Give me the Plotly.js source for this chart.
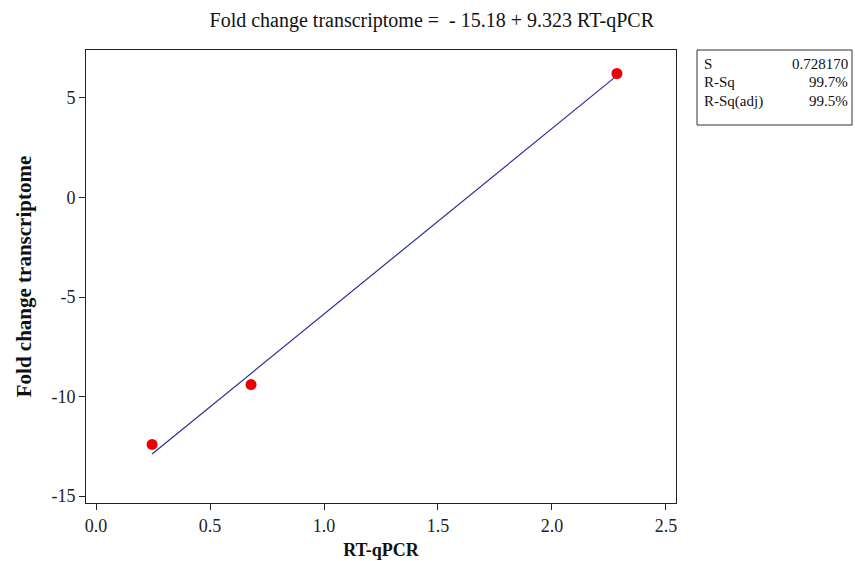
<!DOCTYPE html>
<html>
<head>
<meta charset="utf-8">
<script src="https://cdn.plot.ly/plotly-3.0.1.min.js"></script>
<style>html,body{margin:0;padding:0;background:#fff;}#chart{width:855px;height:561px;}</style>
</head>
<body>
<div id="chart"></div>
<script>
// Data
const rtqpcr = [0.246, 0.680, 2.285];
const transcriptome = [-12.41, -9.40, 6.23];
const intercept = -15.18;
const slope = 9.323;
const statLabels = ["S", "R-Sq", "R-Sq(adj)"];
const statValues = ["0.728170", "99.7%", "99.5%"];
const xTicks = [0, 0.5, 1, 1.5, 2, 2.5];
const xTickText = ["0.0", "0.5", "1.0", "1.5", "2.0", "2.5"];
const yTicks = [-15, -10, -5, 0, 5];
const yTickText = ["-15", "-10", "-5", "0", "5"];

const xmin = Math.min(...rtqpcr), xmax = Math.max(...rtqpcr);
const fitX = [xmin, xmax];
const fitY = fitX.map(v => intercept + slope * v);

const serif = "Liberation Serif, Times New Roman, serif";

const traces = [
  {x: fitX, y: fitY, mode: "lines", type: "scatter",
   line: {color: "#2b2b9c", width: 1.2}, hoverinfo: "skip", showlegend: false},
  {x: rtqpcr, y: transcriptome, mode: "markers", type: "scatter",
   marker: {color: "#ee0000", size: 11}, showlegend: false}
];

const annotations = [];
const rowY = [64, 82, 101];
statLabels.forEach((s, i) => {
  annotations.push({xref: "paper", yref: "paper", x: (702 - 86) / 590, y: 1 - (rowY[i] - 50) / 453,
    xanchor: "left", yanchor: "middle", text: s, showarrow: false,
    font: {family: serif, size: 15, color: "#111"}});
  annotations.push({xref: "paper", yref: "paper", x: (850 - 86) / 590, y: 1 - (rowY[i] - 50) / 453,
    xanchor: "right", yanchor: "middle", text: statValues[i], showarrow: false,
    font: {family: serif, size: 15, color: "#111"}});
});

const layout = {
  width: 855, height: 561,
  margin: {l: 86, r: 179, t: 50, b: 58},
  paper_bgcolor: "#fff", plot_bgcolor: "#fff",
  title: {text: "Fold change transcriptome =  - 15.18 + 9.323 RT-qPCR",
          x: 0.505, xanchor: "center", y: 1 - 20 / 561, yanchor: "middle",
          font: {family: serif, size: 20, color: "#111"}},
  xaxis: {range: [-0.044, 2.544], tickvals: xTicks, ticktext: xTickText,
          ticks: "outside", ticklen: 6, tickcolor: "#222", showgrid: false, zeroline: false,
          showline: true, mirror: true, linecolor: "#222", linewidth: 1,
          tickfont: {family: serif, size: 18, color: "#222"},
          title: {text: "<b>RT-qPCR</b>", font: {family: serif, size: 18, color: "#111"}, standoff: 8}},
  yaxis: {range: [-15.35, 7.41], tickvals: yTicks, ticktext: yTickText,
          ticks: "outside", ticklen: 6, tickcolor: "#222", showgrid: false, zeroline: false,
          showline: true, mirror: true, linecolor: "#222", linewidth: 1,
          tickfont: {family: serif, size: 18, color: "#222"},
          title: {text: "<b>Fold change transcriptome</b>", font: {family: serif, size: 21, color: "#111"}, standoff: 14}},
  shapes: [{type: "rect", xref: "paper", yref: "paper",
            x0: (697 - 86) / 590, x1: (852 - 86) / 590,
            y0: 1 - (125 - 50) / 453, y1: 1,
            line: {color: "#333", width: 1}, fillcolor: "rgba(0,0,0,0)"}],
  annotations: annotations
};

Plotly.newPlot("chart", traces, layout, {displayModeBar: false, staticPlot: true});
</script>
</body>
</html>
